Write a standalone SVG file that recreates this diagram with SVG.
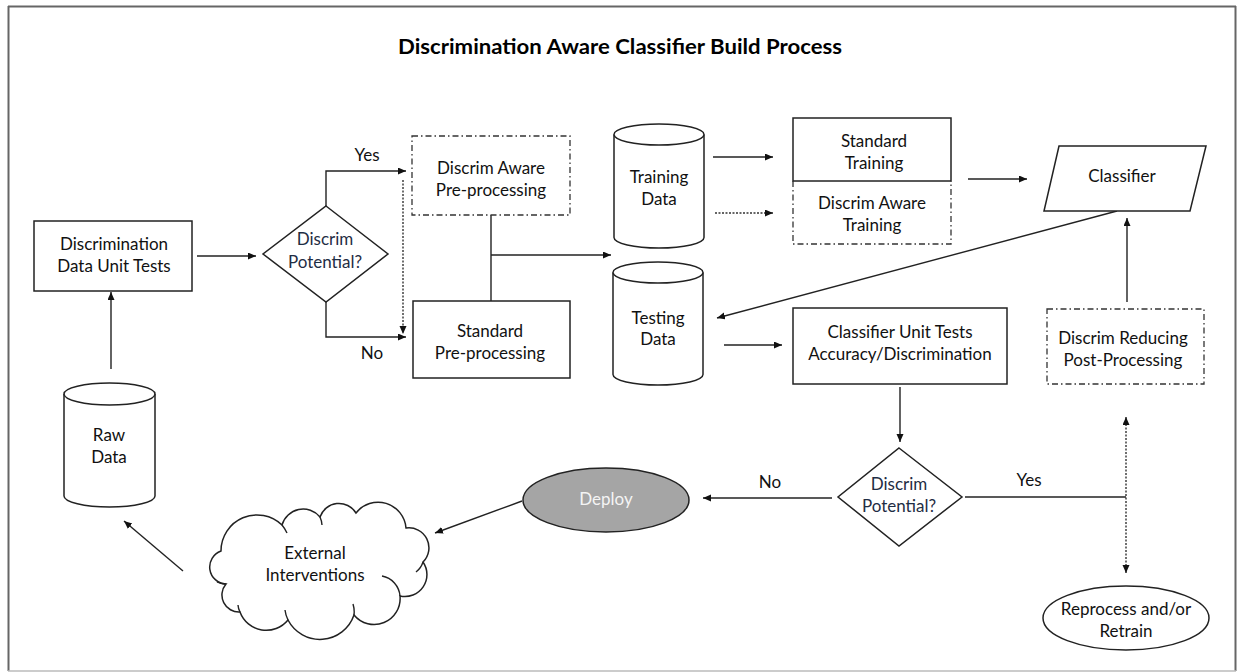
<svg xmlns="http://www.w3.org/2000/svg" width="1238" height="672" viewBox="0 0 1238 672">
<defs>
<style>
.t{font-family:Lato,"Open Sans","Liberation Sans",sans-serif;font-size:17px;fill:#111;text-anchor:middle;dominant-baseline:central}
.q{fill:#1f2d44}
.title{font-family:Lato,"Open Sans","Liberation Sans",sans-serif;font-size:21px;font-weight:bold;fill:#000;text-anchor:middle;dominant-baseline:central}
.box{fill:#fff;stroke:#222;stroke-width:1.5}
.dd{fill:#fff;stroke:#333;stroke-width:1.3;stroke-dasharray:6 3 1.5 3}
.ln{fill:none;stroke:#222;stroke-width:1.4}
.dot{fill:none;stroke:#333;stroke-width:1.4;stroke-dasharray:2 1.5}
.a{marker-end:url(#arr)}
</style>
<marker id="arr" markerUnits="userSpaceOnUse" markerWidth="10" markerHeight="8" refX="8" refY="3.5" orient="auto-start-reverse">
<path d="M0,0 L8,3.5 L0,7 Z" fill="#111"/>
</marker>
</defs>
<rect width="1238" height="672" fill="#fff"/>
<g id="frame">
<line x1="8" y1="6.5" x2="1236" y2="6.5" stroke="#666" stroke-width="2"/>
<line x1="8.5" y1="6" x2="8.5" y2="671" stroke="#666" stroke-width="2"/>
<line x1="1235.5" y1="6" x2="1235.5" y2="671" stroke="#666" stroke-width="2"/>
<line x1="8" y1="671" x2="1236" y2="671" stroke="#bbb" stroke-width="1.5"/>
</g>
<text class="title" x="620" y="45" textLength="444" lengthAdjust="spacingAndGlyphs">Discrimination Aware Classifier Build Process</text>

<g id="connectors">
<line class="ln a" x1="197" y1="256" x2="256" y2="256"/>
<line class="ln a" x1="111" y1="369" x2="111" y2="292"/>
<polyline class="ln a" points="326,206 326,171 406,171"/>
<polyline class="ln a" points="326,302 326,337 406,337"/>
<line class="dot a" x1="403" y1="180" x2="403" y2="334"/>
<line class="ln" x1="491" y1="215" x2="491" y2="301"/>
<line class="ln a" x1="491" y1="255" x2="611" y2="255"/>
<line class="ln a" x1="713" y1="157" x2="773" y2="157"/>
<line class="dot a" x1="715" y1="213" x2="773" y2="213"/>
<line class="ln a" x1="724" y1="345" x2="782" y2="345"/>
<line class="ln a" x1="968" y1="179" x2="1027" y2="179"/>
<line class="ln a" x1="1117" y1="211" x2="717" y2="318"/>
<line class="ln a" x1="1127" y1="302" x2="1127" y2="218"/>
<line class="ln a" x1="900" y1="387" x2="900" y2="442"/>
<line class="ln" x1="965" y1="497" x2="1126" y2="497"/>
<line class="dot a" x1="1126" y1="417" x2="1126" y2="573" style="marker-start:url(#arr)"/>
<line class="ln a" x1="832" y1="498" x2="703" y2="498"/>
<line class="ln a" x1="522" y1="501" x2="435" y2="533"/>
<line class="ln a" x1="183" y1="571" x2="124" y2="521"/>
<text class="t" x="367" y="154">Yes</text>
<text class="t" x="372" y="352">No</text>
<text class="t" x="1029" y="479">Yes</text>
<text class="t" x="770" y="481">No</text>
</g>

<g id="discrim-data-unit-tests">
<rect class="box" x="34" y="221" width="158" height="70"/>
<text class="t" x="114" y="243">Discrimination</text>
<text class="t" x="114" y="265">Data Unit Tests</text>
</g>

<g id="decision-1">
<polygon class="box" points="326,206 388,254 326,302 263,254"/>
<text class="t q" x="325" y="238">Discrim</text>
<text class="t q" x="325" y="261">Potential?</text>
</g>

<g id="discrim-aware-preprocessing">
<rect class="dd" x="412" y="136" width="158" height="79"/>
<text class="t" x="491" y="167">Discrim Aware</text>
<text class="t" x="491" y="189">Pre-processing</text>
</g>

<g id="standard-preprocessing">
<rect class="box" x="413" y="301" width="157" height="77"/>
<text class="t" x="490" y="330">Standard</text>
<text class="t" x="490" y="352">Pre-processing</text>
</g>

<g id="training-data">
<path class="box" d="M614,134.5 V237.5 A45,10.5 0 0 0 704,237.5 V134.5"/>
<ellipse class="box" cx="659" cy="134.5" rx="45" ry="10.5"/>
<text class="t" x="659" y="176">Training</text>
<text class="t" x="659" y="198">Data</text>
</g>

<g id="testing-data">
<path class="box" d="M613,272.5 V374.5 A45,10.5 0 0 0 703,374.5 V272.5"/>
<ellipse class="box" cx="658" cy="272.5" rx="45" ry="10.5"/>
<text class="t" x="658" y="317">Testing</text>
<text class="t" x="658" y="338">Data</text>
</g>

<g id="discrim-aware-training">
<path class="dd" d="M793,181 V244 H951 V181"/>
<text class="t" x="872" y="202">Discrim Aware</text>
<text class="t" x="872" y="224">Training</text>
</g>

<g id="standard-training">
<rect class="box" x="793" y="118" width="158" height="63"/>
<text class="t" x="874" y="140">Standard</text>
<text class="t" x="874" y="162">Training</text>
</g>

<g id="classifier">
<polygon class="box" points="1059,146 1206,146 1190,211 1044,211"/>
<text class="t" x="1122" y="175">Classifier</text>
</g>

<g id="classifier-unit-tests">
<rect class="box" x="793" y="308" width="214" height="76"/>
<text class="t" x="900" y="331">Classifier Unit Tests</text>
<text class="t" x="900" y="353">Accuracy/Discrimination</text>
</g>

<g id="discrim-reducing-post-processing">
<rect class="dd" x="1047" y="309" width="157" height="75"/>
<text class="t" x="1123" y="337">Discrim Reducing</text>
<text class="t" x="1123" y="359">Post-Processing</text>
</g>

<g id="decision-2">
<polygon class="box" points="899,448 962,497 899,546 838,497"/>
<text class="t q" x="899" y="483">Discrim</text>
<text class="t q" x="899" y="505">Potential?</text>
</g>

<g id="reprocess-retrain">
<ellipse class="box" cx="1126" cy="618" rx="83" ry="32"/>
<text class="t" x="1126" y="608">Reprocess and/or</text>
<text class="t" x="1126" y="630">Retrain</text>
</g>

<g id="deploy">
<ellipse cx="606" cy="500" rx="83" ry="32" fill="#a5a5a5" stroke="#222" stroke-width="1.5"/>
<text class="t" x="606" y="498" style="fill:#f4f4f4">Deploy</text>
</g>

<g id="external-interventions">
<path class="box" d="M240,612 A17,17 0 0 1 226,584 A17,17 0 0 1 221,551 A36,36 0 0 1 282,525 A22,22 0 0 1 320,517 A20,20 0 0 1 356,513 A28,28 0 0 1 406,528 A20,20 0 0 1 423,562 A22,22 0 0 1 400,596 A26,26 0 0 1 354,615 A36,36 0 0 1 288,620 A28,28 0 0 1 240,612 Z"/>
<path class="ln" d="M226,584 A17,17 0 0 1 217,582 M240,612 A17,17 0 0 1 238,605 M288,620 A30,30 0 0 1 285,610 M354,615 A26,26 0 0 0 353,604 M400,596 A22,22 0 0 0 382,576 M423,562 A20,20 0 0 1 416,572 M320,517 A22,22 0 0 1 322,525 M282,525 A36,36 0 0 1 287,533" stroke-width="1.2"/>
<text class="t" x="315" y="552">External</text>
<text class="t" x="315" y="574">Interventions</text>
</g>

<g id="raw-data">
<path class="box" d="M64,394 V496 A45.5,11 0 0 0 155,496 V394"/>
<ellipse class="box" cx="109.5" cy="394" rx="45.5" ry="11"/>
<text class="t" x="109" y="434">Raw</text>
<text class="t" x="109" y="456">Data</text>
</g>
</svg>
